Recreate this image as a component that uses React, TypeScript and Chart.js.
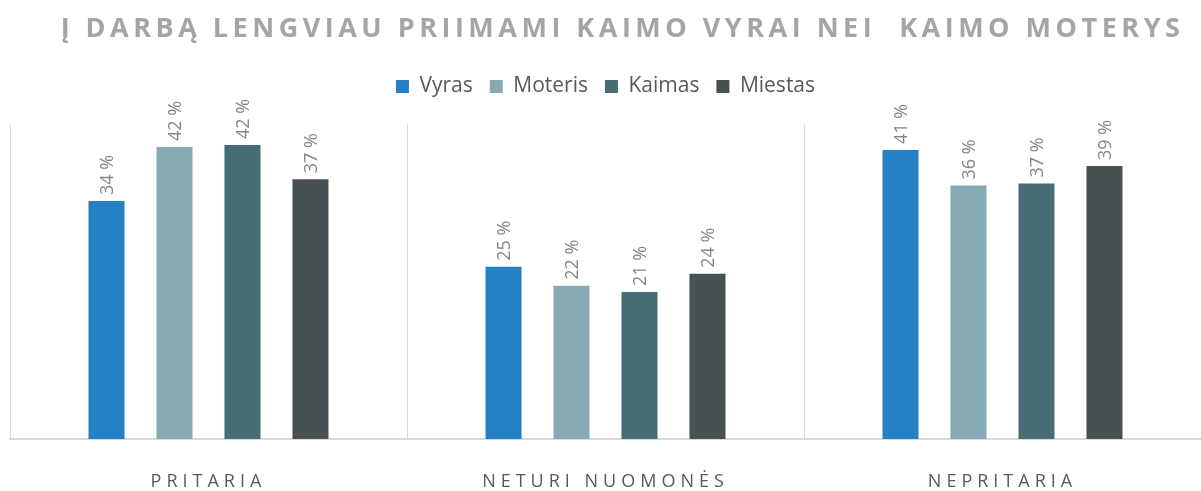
import { useEffect, useRef } from 'react';
import { Chart, registerables } from 'chart.js';

Chart.register(...registerables);

const TITLE = 'Į DARBĄ LENGVIAU PRIIMAMI KAIMO VYRAI NEI  KAIMO MOTERYS';
const CATEGORIES = ['PRITARIA', 'NETURI NUOMONĖS', 'NEPRITARIA'];
const SERIES_NAMES = ['Vyras', 'Moteris', 'Kaimas', 'Miestas'];
const VYRAS = [34.0, 24.6, 41.3];
const MOTERIS = [41.7, 21.9, 36.2];
const KAIMAS = [42.0, 21.0, 36.5];
const MIESTAS = [37.1, 23.6, 39.0];
const Y_MIN = 0;
const Y_MAX = 45;

const COLORS = ['#2580C6', '#86ABB5', '#466C74', '#475154'];
const FONT = '"Open Sans", sans-serif';

const textPlugin = {
  id: 'customText',
  afterDatasetsDraw(chart: any) {
    const ctx = chart.ctx as CanvasRenderingContext2D;
    ctx.save();
    ctx.font = `18px ${FONT}`;
    ctx.fillStyle = '#858585';
    ctx.textAlign = 'left';
    ctx.textBaseline = 'middle';
    chart.data.datasets.forEach((ds: any, di: number) => {
      const meta = chart.getDatasetMeta(di);
      meta.data.forEach((bar: any, i: number) => {
        const v = ds.data[i] as number;
        ctx.save();
        ctx.translate(bar.x + 1, bar.y - 6);
        ctx.rotate(-Math.PI / 2);
        ctx.fillText(`${Math.round(v)} %`, 0, 0);
        ctx.restore();
      });
    });
    ctx.restore();
  },
  afterDraw(chart: any) {
    const ctx = chart.ctx as any;
    ctx.save();
    ctx.textAlign = 'center';
    ctx.textBaseline = 'middle';
    ctx.letterSpacing = '4.5px';
    ctx.font = `bold 27px ${FONT}`;
    ctx.fillStyle = '#A5A5A5';
    ctx.fillText(TITLE, chart.width / 2 + 22, 29);
    ctx.letterSpacing = '5px';
    ctx.font = `18px ${FONT}`;
    ctx.fillStyle = '#595959';
    const xs = chart.scales.x;
    CATEGORIES.forEach((c, i) => {
      ctx.fillText(c, xs.getPixelForValue(i), 482);
    });
    ctx.restore();
  },
};

export default function App() {
  const ref = useRef<HTMLCanvasElement | null>(null);

  useEffect(() => {
    if (!ref.current) return;
    Chart.defaults.font.family = FONT;
    const seriesData = [VYRAS, MOTERIS, KAIMAS, MIESTAS];
    const chart = new Chart(ref.current, {
      type: 'bar',
      data: {
        labels: CATEGORIES,
        datasets: SERIES_NAMES.map((name, i) => ({
          label: name,
          data: seriesData[i],
          backgroundColor: COLORS[i],
          borderWidth: 0,
          categoryPercentage: 0.685,
          barPercentage: 0.53,
        })),
      },
      options: {
        responsive: false,
        animation: false,
        layout: { padding: { top: 59, left: 10, right: 0, bottom: 52 } },
        plugins: {
          title: { display: false },
          subtitle: {
            display: true,
            text: '',
            weight: 500,
            padding: { top: 0, bottom: 16 },
            font: { size: 1, lineHeight: 1 },
          },
          legend: {
            position: 'top',
            labels: {
              boxWidth: 13,
              boxHeight: 13,
              padding: 17,
              color: '#595959',
              font: { family: FONT, size: 21 },
            },
          },
          tooltip: { enabled: false },
        },
        scales: {
          x: {
            offset: true,
            grid: { offset: true, color: '#D9D9D9', lineWidth: 1, drawTicks: false },
            border: { color: '#D9D9D9', width: 2 },
            ticks: { display: false },
          },
          y: { display: false, min: Y_MIN, max: Y_MAX },
        },
      },
      plugins: [textPlugin],
    } as any);
    return () => chart.destroy();
  }, []);

  return (
    <div style={{ position: 'absolute', left: 0, top: 0, width: 1201, height: 491, background: '#fff' }}>
      <canvas ref={ref} width={1201} height={491} style={{ display: 'block' }} />
    </div>
  );
}
